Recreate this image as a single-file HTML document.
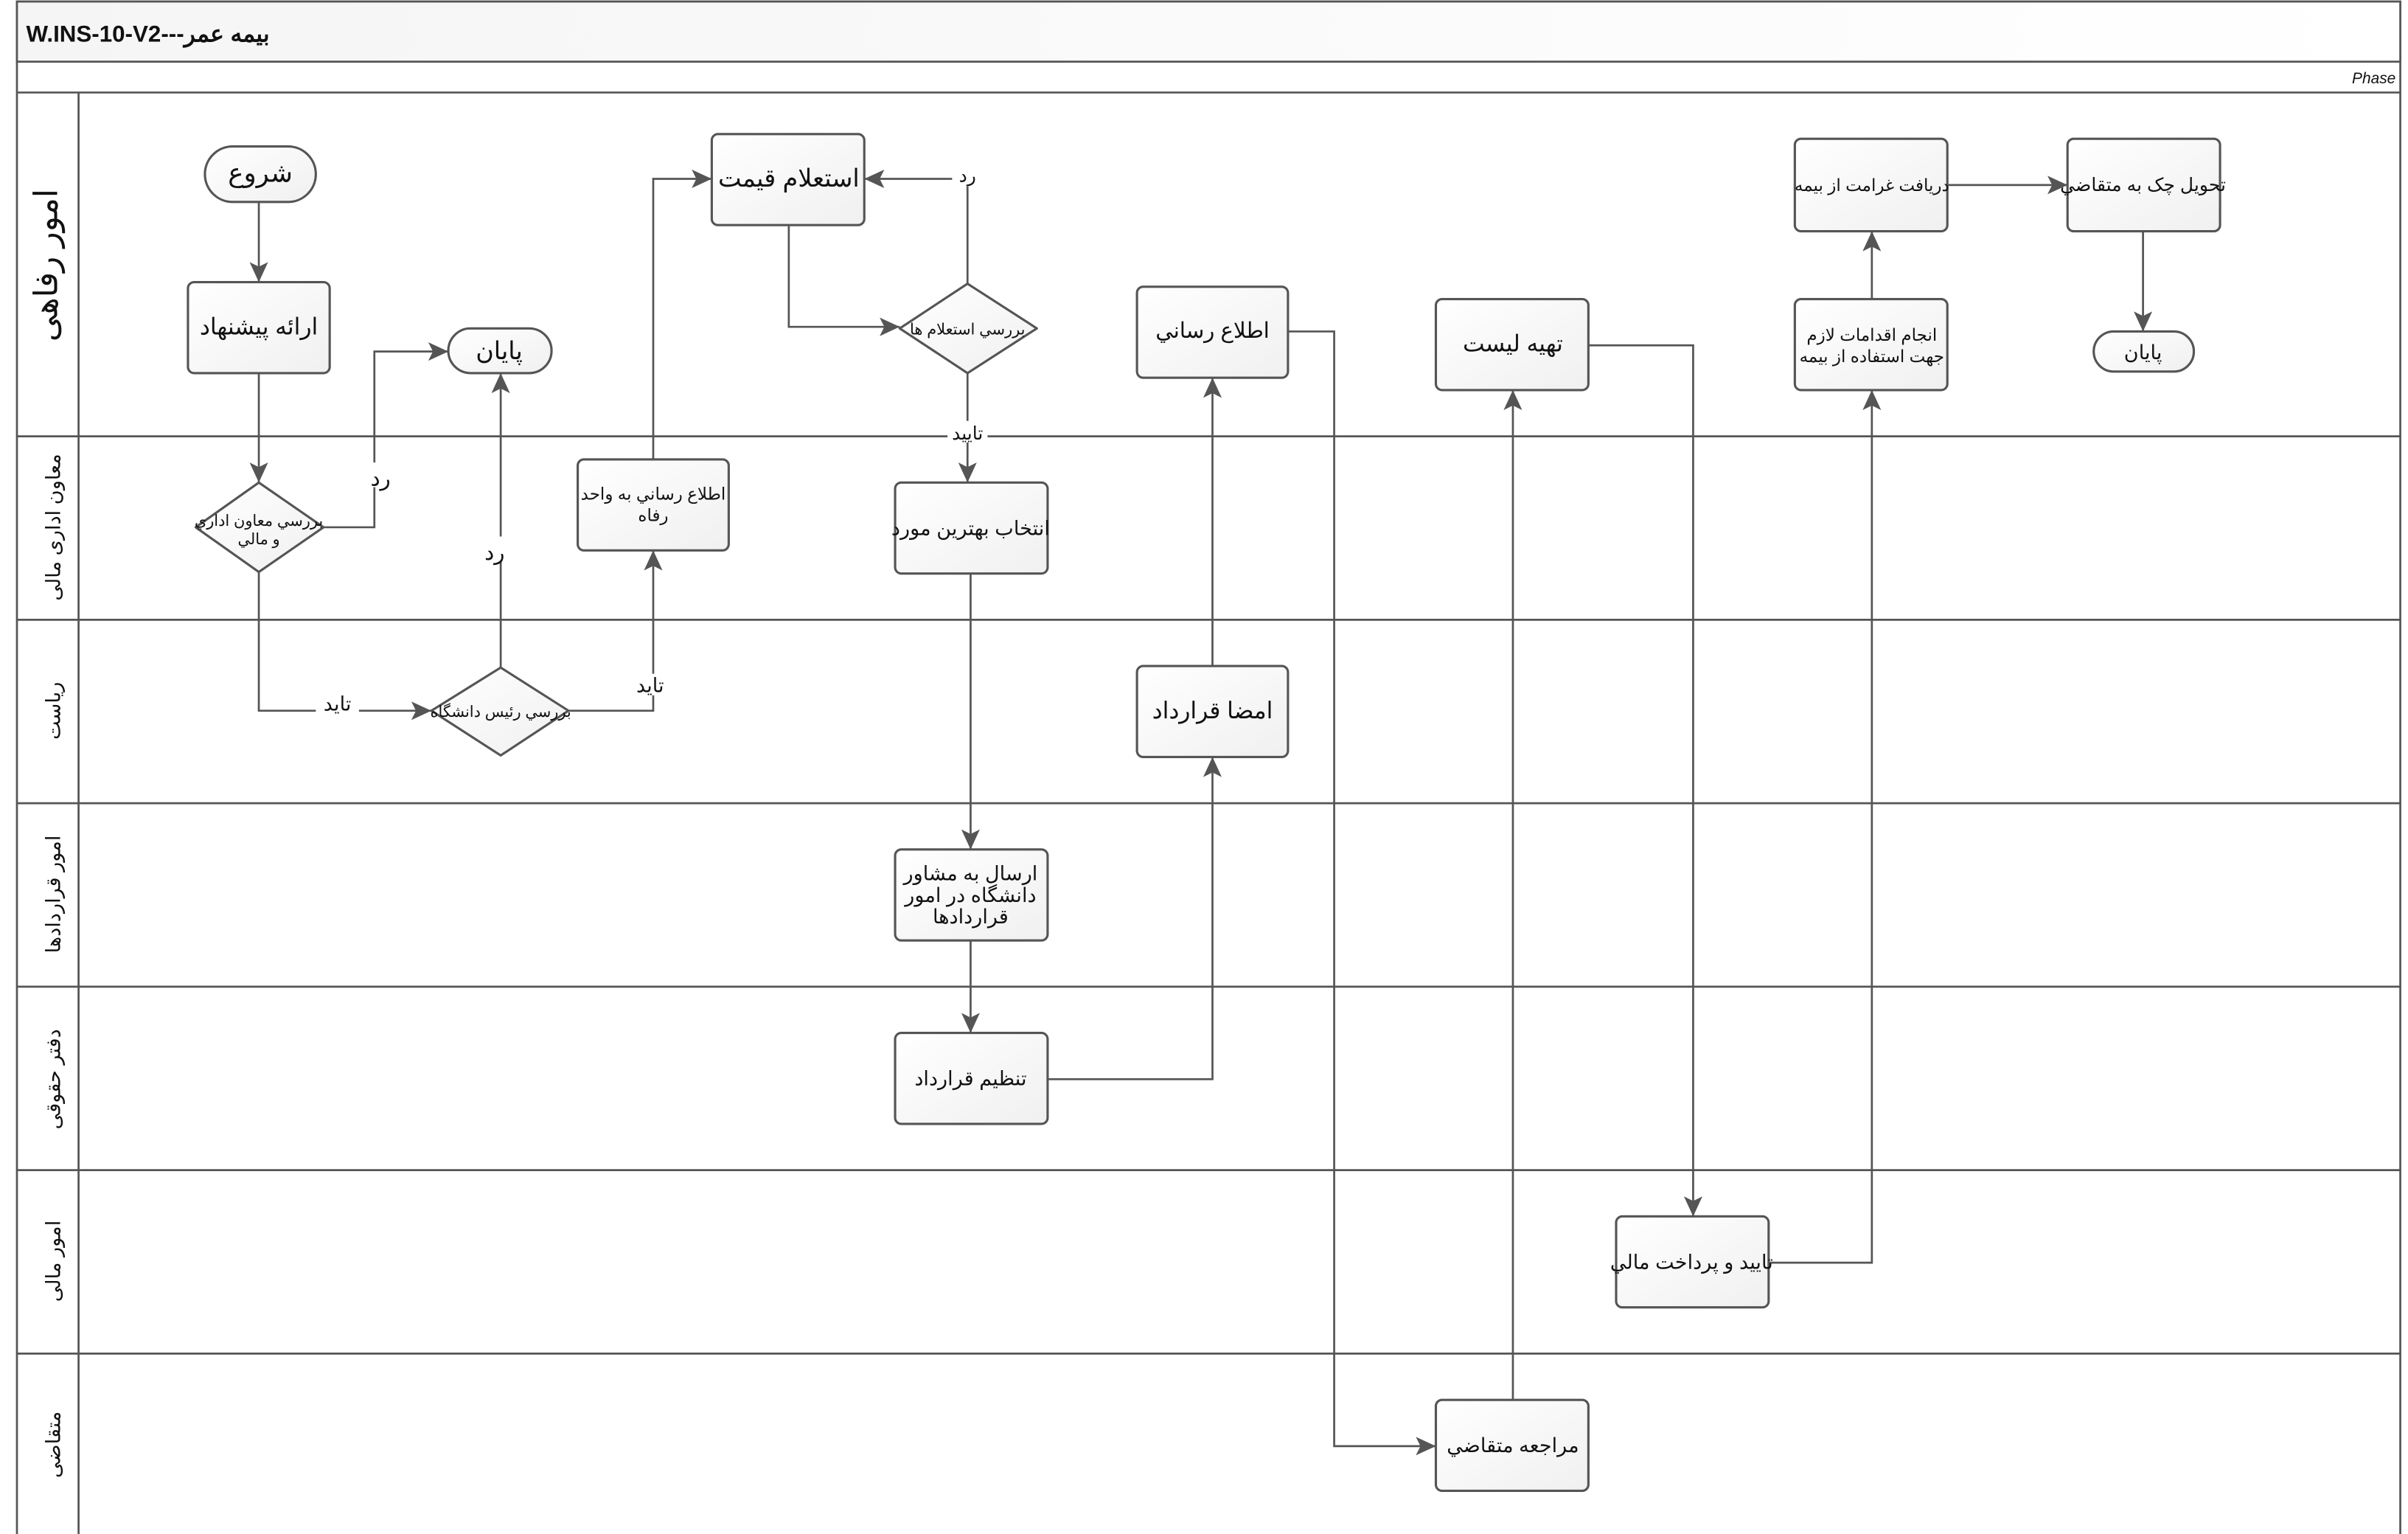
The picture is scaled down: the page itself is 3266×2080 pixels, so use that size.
<!DOCTYPE html>
<html><head><meta charset="utf-8"><style>
html,body{margin:0;padding:0;background:#fff}
svg{display:block}
text{font-family:"Liberation Sans","Noto Sans CJK SC",sans-serif;fill:#111}
</style></head><body>
<svg width="3266" height="2080" viewBox="0 0 1563 995" preserveAspectRatio="none" xmlns="http://www.w3.org/2000/svg">
<defs>
<linearGradient id="g" x1="0" y1="0" x2="1" y2="1"><stop offset="0" stop-color="#ffffff"/><stop offset="1" stop-color="#f0f0f0"/></linearGradient>
<linearGradient id="hb" x1="0" y1="0" x2="1" y2="0"><stop offset="0" stop-color="#f5f5f5"/><stop offset="1" stop-color="#ffffff"/></linearGradient>
<marker id="a" markerWidth="14" markerHeight="14" refX="13" refY="6" orient="auto" markerUnits="userSpaceOnUse"><path d="M0,0 L13,6 L0,12 L3,6 Z" fill="#555"/></marker>
</defs>
<g stroke="#555" stroke-width="1.3" fill="none">
<rect x="11" y="1" width="1547" height="996" fill="#fff"/>
<rect x="11" y="1" width="1547" height="39" fill="url(#hb)"/>
<line x1="11" y1="60" x2="1558" y2="60"/>
<line x1="51" y1="60" x2="51" y2="997"/>
<line x1="11" y1="283" x2="1558" y2="283"/>
<line x1="11" y1="402" x2="1558" y2="402"/>
<line x1="11" y1="521" x2="1558" y2="521"/>
<line x1="11" y1="640" x2="1558" y2="640"/>
<line x1="11" y1="759" x2="1558" y2="759"/>
<line x1="11" y1="878" x2="1558" y2="878"/>
</g>
<text x="17" y="27" font-size="15" font-weight="bold">W.INS-10-V2---بیمه عمر</text>
<text x="1555" y="54" font-size="10" font-style="italic" text-anchor="end">Phase</text>
<g font-size="13" text-anchor="middle">
<text transform="translate(37,172) rotate(-90)" font-size="21">امور رفاهی</text>
<text transform="translate(39,342) rotate(-90)">معاون اداری مالی</text>
<text transform="translate(39,461) rotate(-90)">ریاست</text>
<text transform="translate(39,580) rotate(-90)">امور قراردادها</text>
<text transform="translate(39,700) rotate(-90)">دفتر حقوقی</text>
<text transform="translate(39,818) rotate(-90)">امور مالی</text>
<text transform="translate(39,937) rotate(-90)">متقاضی</text>
</g>
<g stroke="#555" stroke-width="1.3" fill="none" marker-end="url(#a)">
<path d="M168,131 V183"/>
<path d="M168,242 V313"/>
<path d="M210,342 H243 V228 H291"/>
<path d="M168,371 V461 H280"/>
<path d="M325,433 V242"/>
<path d="M369,461 H424 V357"/>
<path d="M424,298 V116 H462"/>
<path d="M512,146 V212 H584"/>
<path d="M628,184 V116 H561"/>
<path d="M628,242 V313"/>
<path d="M630,372 V551"/>
<path d="M630,610 V670"/>
<path d="M680,700 H787 V491"/>
<path d="M787,432 V245"/>
<path d="M836,215 H866 V938 H932"/>
<path d="M982,908 V253"/>
<path d="M1031,224 H1099 V789"/>
<path d="M1148,819 H1215 V253"/>
<path d="M1215,194 V150"/>
<path d="M1264,120 H1342"/>
<path d="M1391,150 V215"/>
</g>
<g font-size="14" text-anchor="middle">
<rect x="238" y="300" width="18" height="16" fill="#fff"/><text x="247" y="315">رد</text>
<rect x="312" y="348" width="18" height="16" fill="#fff"/><text x="321" y="363">رد</text>
<rect x="205" y="449" width="28" height="14" fill="#fff"/><text x="219" y="461" font-size="13">تاید</text>
<rect x="410" y="437" width="26" height="14" fill="#fff"/><text x="422" y="449" font-size="13">تاید</text>
<rect x="618" y="107" width="20" height="14" fill="#fff"/><text x="628" y="118" font-size="12">رد</text>
<rect x="615" y="273" width="26" height="14" fill="#fff"/><text x="628" y="285" font-size="12">تایید</text>
</g>
<g stroke="#555" stroke-width="1.5" fill="url(#g)">
<rect x="133" y="95" width="72" height="36" rx="18"/>
<rect x="122" y="183" width="92" height="59" rx="4"/>
<rect x="291" y="213" width="67" height="29" rx="14.5"/>
<path d="M168,313 L210,342 L168,371 L127,342 Z" stroke-linejoin="round"/>
<rect x="375" y="298" width="98" height="59" rx="4"/>
<path d="M325,433 L369,461 L325,490 L280,461 Z" stroke-linejoin="round"/>
<rect x="462" y="87" width="99" height="59" rx="4"/>
<path d="M628,184 L673,213 L628,242 L584,213 Z" stroke-linejoin="round"/>
<rect x="581" y="313" width="99" height="59" rx="4"/>
<rect x="581" y="551" width="99" height="59" rx="4"/>
<rect x="581" y="670" width="99" height="59" rx="4"/>
<rect x="738" y="432" width="98" height="59" rx="4"/>
<rect x="738" y="186" width="98" height="59" rx="4"/>
<rect x="932" y="194" width="99" height="59" rx="4"/>
<rect x="932" y="908" width="99" height="59" rx="4"/>
<rect x="1049" y="789" width="99" height="59" rx="4"/>
<rect x="1165" y="194" width="99" height="59" rx="4"/>
<rect x="1165" y="90" width="99" height="60" rx="4"/>
<rect x="1342" y="90" width="99" height="60" rx="4"/>
<rect x="1359" y="215" width="65" height="26" rx="13"/>
</g>
<g text-anchor="middle" font-size="12">
<text x="169" y="118" font-size="17">شروع</text>
<text x="168" y="217" font-size="15">ارائه پیشنهاد</text>
<text x="324" y="233" font-size="16">پایان</text>
<text x="168" y="341" font-size="10">بررسي معاون اداري</text>
<text x="168" y="353" font-size="10">و مالي</text>
<text x="424" y="324" font-size="11">اطلاع رساني به واحد</text>
<text x="424" y="338" font-size="11">رفاه</text>
<text x="325" y="465" font-size="10">بررسي رئيس دانشگاه</text>
<text x="512" y="121" font-size="16">استعلام قيمت</text>
<text x="628" y="217" font-size="10">بررسي استعلام ها</text>
<text x="630" y="347" font-size="13">انتخاب بهترين مورد</text>
<text x="630" y="571" font-size="13">ارسال به مشاور</text>
<text x="630" y="585" font-size="13">دانشگاه در امور</text>
<text x="630" y="599" font-size="13">قراردادها</text>
<text x="630" y="704" font-size="13">تنظيم قرارداد</text>
<text x="787" y="466" font-size="15">امضا قرارداد</text>
<text x="787" y="219" font-size="14">اطلاع رساني</text>
<text x="982" y="228" font-size="15">تهيه ليست</text>
<text x="982" y="942" font-size="13">مراجعه متقاضي</text>
<text x="1098" y="823" font-size="13">تاييد و پرداخت مالي</text>
<text x="1215" y="221" font-size="11">انجام اقدامات لازم</text>
<text x="1215" y="235" font-size="11">جهت استفاده از بيمه</text>
<text x="1215" y="124" font-size="11">دريافت غرامت از بيمه</text>
<text x="1391" y="124" font-size="12">تحويل چک به متقاضي</text>
<text x="1391" y="233" font-size="13">پايان</text>
</g>
</svg>
</body></html>
